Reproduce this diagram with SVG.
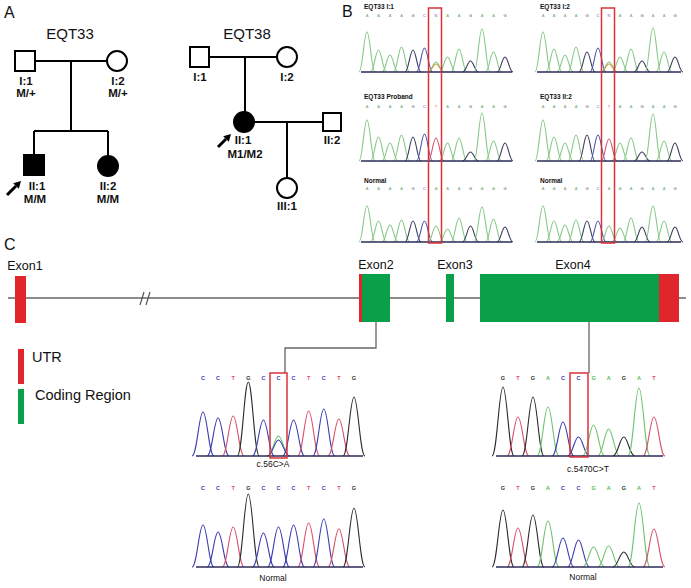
<svg xmlns="http://www.w3.org/2000/svg" xmlns:xlink="http://www.w3.org/1999/xlink" width="691" height="588" viewBox="0 0 691 588">
<style>
text{font-family:"Liberation Sans",Arial,sans-serif;fill:#111}
.pl{font-size:16px}
.fam{font-size:15px;text-anchor:middle}
.pid{font-size:11.5px;font-weight:bold;text-anchor:middle}
.ln{stroke:#000;stroke-width:2;fill:none}
.un{fill:#fff;stroke:#000;stroke-width:2}
.af{fill:#000;stroke:#000;stroke-width:2}
.tl{font-size:6.5px;font-weight:bold}
.bl{font-size:4px;text-anchor:middle;fill:#6a6}
.cl{font-size:5.5px;font-weight:bold;text-anchor:middle;fill:#3c3cb0}
.g{stroke:#86c986}.k{stroke:#3b3b5e}.b{stroke:#4a56a8}.r{stroke:#d8546a}.o{stroke:#c9a24a}
.cb{stroke:#3c3cb0}.ck{stroke:#2b2b2b}.cr{stroke:#d9506a}.cg{stroke:#6cc46c}
use{fill:none;stroke-width:1.1}
.base{stroke:#2d2d5a;stroke-width:1.5}
.box{fill:none;stroke:#d8333a;stroke-width:1.5}
.ex{font-size:12.5px;text-anchor:middle}
.lg{font-size:14.5px}
.conn{stroke:#666;stroke-width:1.3;fill:none}
.cap{font-size:8.5px;text-anchor:middle}
</style>
<defs>
<path id="pb" d="M-8,0 C-4.5,0 -3,-1 0,-1 C3,-1 4.5,0 8,0" vector-effect="non-scaling-stroke"/>
<path id="pc" d="M-11,0 C-6,0 -4,-1 0,-1 C4,-1 6,0 11,0" vector-effect="non-scaling-stroke"/>
</defs>

<!-- Panel labels -->
<text class="pl" x="4" y="18">A</text>
<text class="pl" x="342" y="17">B</text>
<text class="pl" x="4" y="250">C</text>

<!-- Pedigree EQT33 -->
<g id="eqt33">
<text class="fam" x="70" y="39">EQT33</text>
<path class="ln" d="M35,61 H107 M71,61 V131 M34,131 H108 M34,131 V155 M108,131 V156"/>
<rect class="un" x="15" y="51" width="20" height="20"/>
<circle class="un" cx="117" cy="61" r="10"/>
<rect class="af" x="24" y="155" width="20" height="20"/>
<circle class="af" cx="108" cy="166" r="10"/>
<text class="pid" x="26" y="85">I:1</text>
<text class="pid" x="26" y="97">M/+</text>
<text class="pid" x="118" y="85">I:2</text>
<text class="pid" x="118" y="97">M/+</text>
<text class="pid" x="37" y="190">II:1</text>
<text class="pid" x="35" y="203">M/M</text>
<text class="pid" x="108" y="190">II:2</text>
<text class="pid" x="108" y="203">M/M</text>
<path d="M7,195 L16,186" stroke="#000" stroke-width="3"/>
<polygon points="21,181 18.8,188.8 13.2,183.2" fill="#000"/>
</g>

<!-- Pedigree EQT38 -->
<g id="eqt38">
<text class="fam" x="247" y="39">EQT38</text>
<path class="ln" d="M209,57 H277 M245,57 V112 M253,122 H323 M287,122 V178"/>
<rect class="un" x="190" y="47" width="19" height="20"/>
<circle class="un" cx="287" cy="57" r="10"/>
<circle class="af" cx="244" cy="122" r="10"/>
<rect class="un" x="323" y="113" width="18" height="18"/>
<circle class="un" cx="287" cy="188" r="10"/>
<text class="pid" x="200" y="81">I:1</text>
<text class="pid" x="287" y="81">I:2</text>
<text class="pid" x="243" y="144">II:1</text>
<text class="pid" x="245" y="158">M1/M2</text>
<text class="pid" x="332" y="144">II:2</text>
<text class="pid" x="287" y="210">III:1</text>
<path d="M218,147 L226,139" stroke="#000" stroke-width="3"/>
<polygon points="231,134 228.8,141.8 223.2,136.2" fill="#000"/>
</g>

<!-- Panel B chromatograms -->
<g id="chromB">
<text class="tl" x="364" y="9">EQT33 I:1</text>
<text class="tl" x="540" y="9">EQT33 I:2</text>
<text class="tl" x="364" y="99">EQT33 Proband</text>
<text class="tl" x="540" y="99">EQT33 II:2</text>
<text class="tl" x="364" y="183">Normal</text>
<text class="tl" x="540" y="183">Normal</text>

<text class="bl" y="17"><tspan x="367">A</tspan><tspan x="378.5">A</tspan><tspan x="390">A</tspan><tspan x="401.5">A</tspan><tspan x="413" fill="#444">G</tspan><tspan x="424.5" fill="#55a">C</tspan><tspan x="436" fill="#a4a">N</tspan><tspan x="447.5">A</tspan><tspan x="459">A</tspan><tspan x="470.5" fill="#444">G</tspan><tspan x="482">A</tspan><tspan x="493.5">A</tspan><tspan x="505" fill="#444">G</tspan></text>
<text class="bl" y="108"><tspan x="367">A</tspan><tspan x="378.5">A</tspan><tspan x="390">A</tspan><tspan x="401.5">A</tspan><tspan x="413" fill="#444">G</tspan><tspan x="424.5" fill="#55a">C</tspan><tspan x="436" fill="#d55">T</tspan><tspan x="447.5">A</tspan><tspan x="459">A</tspan><tspan x="470.5" fill="#444">G</tspan><tspan x="482">A</tspan><tspan x="493.5">A</tspan><tspan x="505" fill="#444">G</tspan></text>
<text class="bl" y="190"><tspan x="367">A</tspan><tspan x="378.5">A</tspan><tspan x="390">A</tspan><tspan x="401.5">A</tspan><tspan x="413" fill="#444">G</tspan><tspan x="424.5" fill="#55a">C</tspan><tspan x="436">A</tspan><tspan x="447.5">A</tspan><tspan x="459">A</tspan><tspan x="470.5" fill="#444">G</tspan><tspan x="482">A</tspan><tspan x="493.5">A</tspan><tspan x="505" fill="#444">G</tspan></text>
<text class="bl" y="17"><tspan x="543">A</tspan><tspan x="554">A</tspan><tspan x="565">A</tspan><tspan x="576">A</tspan><tspan x="587" fill="#444">G</tspan><tspan x="598" fill="#55a">C</tspan><tspan x="609" fill="#a4a">N</tspan><tspan x="620">A</tspan><tspan x="631">A</tspan><tspan x="642" fill="#444">G</tspan><tspan x="653">A</tspan><tspan x="664">A</tspan><tspan x="675" fill="#444">G</tspan></text>
<text class="bl" y="108"><tspan x="543">A</tspan><tspan x="554">A</tspan><tspan x="565">A</tspan><tspan x="576">A</tspan><tspan x="587" fill="#444">G</tspan><tspan x="598" fill="#55a">C</tspan><tspan x="609" fill="#d55">T</tspan><tspan x="620">A</tspan><tspan x="631">A</tspan><tspan x="642" fill="#444">G</tspan><tspan x="653">A</tspan><tspan x="664">A</tspan><tspan x="675" fill="#444">G</tspan></text>
<text class="bl" y="190"><tspan x="543">A</tspan><tspan x="554">A</tspan><tspan x="565">A</tspan><tspan x="576">A</tspan><tspan x="587" fill="#444">G</tspan><tspan x="598" fill="#55a">C</tspan><tspan x="609">A</tspan><tspan x="620">A</tspan><tspan x="631">A</tspan><tspan x="642" fill="#444">G</tspan><tspan x="653">A</tspan><tspan x="664">A</tspan><tspan x="675" fill="#444">G</tspan></text>

<!-- left row1 -->
<use href="#pb" class="g" transform="translate(367,72) scale(1,40)"/>
<use href="#pb" class="g" transform="translate(378.5,72) scale(1,22)"/>
<use href="#pb" class="g" transform="translate(390,72) scale(1,17)"/>
<use href="#pb" class="g" transform="translate(401.5,72) scale(1,25)"/>
<use href="#pb" class="k" transform="translate(413,72) scale(1,22)"/>
<use href="#pb" class="b" transform="translate(424.5,72) scale(1,24)"/>
<use href="#pb" class="g" transform="translate(436,72) scale(1,10)"/>
<use href="#pb" class="o" transform="translate(436,72) scale(1,8)"/>
<use href="#pb" class="g" transform="translate(447.5,72) scale(1,15)"/>
<use href="#pb" class="g" transform="translate(459,72) scale(1,23)"/>
<use href="#pb" class="k" transform="translate(470.5,72) scale(1,11)"/>
<use href="#pb" class="g" transform="translate(482,72) scale(1,43)"/>
<use href="#pb" class="g" transform="translate(493.5,72) scale(1,20)"/>
<use href="#pb" class="k" transform="translate(505,72) scale(1,15)"/>
<!-- left row2 -->
<use href="#pb" class="g" transform="translate(367,161) scale(1,41)"/>
<use href="#pb" class="g" transform="translate(378.5,161) scale(1,24)"/>
<use href="#pb" class="g" transform="translate(390,161) scale(1,18)"/>
<use href="#pb" class="g" transform="translate(401.5,161) scale(1,26)"/>
<use href="#pb" class="k" transform="translate(413,161) scale(1,24)"/>
<use href="#pb" class="b" transform="translate(424.5,161) scale(1,27)"/>
<use href="#pb" class="r" transform="translate(436,161) scale(1,23)"/>
<use href="#pb" class="g" transform="translate(447.5,161) scale(1,18)"/>
<use href="#pb" class="g" transform="translate(459,161) scale(1,23)"/>
<use href="#pb" class="k" transform="translate(470.5,161) scale(1,9)"/>
<use href="#pb" class="g" transform="translate(482,161) scale(1,48)"/>
<use href="#pb" class="g" transform="translate(493.5,161) scale(1,20)"/>
<use href="#pb" class="k" transform="translate(505,161) scale(1,18)"/>
<!-- left row3 -->
<use href="#pb" class="g" transform="translate(367,242) scale(1,36)"/>
<use href="#pb" class="g" transform="translate(378.5,242) scale(1,21)"/>
<use href="#pb" class="g" transform="translate(390,242) scale(1,17)"/>
<use href="#pb" class="g" transform="translate(401.5,242) scale(1,22)"/>
<use href="#pb" class="k" transform="translate(413,242) scale(1,21)"/>
<use href="#pb" class="b" transform="translate(424.5,242) scale(1,21)"/>
<use href="#pb" class="g" transform="translate(436,242) scale(1,16)"/>
<use href="#pb" class="g" transform="translate(447.5,242) scale(1,13)"/>
<use href="#pb" class="g" transform="translate(459,242) scale(1,24)"/>
<use href="#pb" class="k" transform="translate(470.5,242) scale(1,16)"/>
<use href="#pb" class="g" transform="translate(482,242) scale(1,35)"/>
<use href="#pb" class="g" transform="translate(493.5,242) scale(1,23)"/>
<use href="#pb" class="k" transform="translate(505,242) scale(1,15)"/>
<!-- right row1 -->
<use href="#pb" class="g" transform="translate(543,72) scale(1,40)"/>
<use href="#pb" class="g" transform="translate(554,72) scale(1,23)"/>
<use href="#pb" class="g" transform="translate(565,72) scale(1,17)"/>
<use href="#pb" class="g" transform="translate(576,72) scale(1,25)"/>
<use href="#pb" class="k" transform="translate(587,72) scale(1,20)"/>
<use href="#pb" class="b" transform="translate(598,72) scale(1,24)"/>
<use href="#pb" class="g" transform="translate(609,72) scale(1,10)"/>
<use href="#pb" class="o" transform="translate(609,72) scale(1,8)"/>
<use href="#pb" class="g" transform="translate(620,72) scale(1,15)"/>
<use href="#pb" class="g" transform="translate(631,72) scale(1,23)"/>
<use href="#pb" class="k" transform="translate(642,72) scale(1,11)"/>
<use href="#pb" class="g" transform="translate(653,72) scale(1,44)"/>
<use href="#pb" class="g" transform="translate(664,72) scale(1,20)"/>
<use href="#pb" class="k" transform="translate(675,72) scale(1,15)"/>
<!-- right row2 -->
<use href="#pb" class="g" transform="translate(543,161) scale(1,41)"/>
<use href="#pb" class="g" transform="translate(554,161) scale(1,24)"/>
<use href="#pb" class="g" transform="translate(565,161) scale(1,18)"/>
<use href="#pb" class="g" transform="translate(576,161) scale(1,26)"/>
<use href="#pb" class="k" transform="translate(587,161) scale(1,26)"/>
<use href="#pb" class="b" transform="translate(598,161) scale(1,26)"/>
<use href="#pb" class="r" transform="translate(609,161) scale(1,22)"/>
<use href="#pb" class="g" transform="translate(620,161) scale(1,18)"/>
<use href="#pb" class="g" transform="translate(631,161) scale(1,23)"/>
<use href="#pb" class="k" transform="translate(642,161) scale(1,9)"/>
<use href="#pb" class="g" transform="translate(653,161) scale(1,47)"/>
<use href="#pb" class="g" transform="translate(664,161) scale(1,20)"/>
<use href="#pb" class="k" transform="translate(675,161) scale(1,18)"/>
<!-- right row3 -->
<use href="#pb" class="g" transform="translate(543,242) scale(1,36)"/>
<use href="#pb" class="g" transform="translate(554,242) scale(1,21)"/>
<use href="#pb" class="g" transform="translate(565,242) scale(1,17)"/>
<use href="#pb" class="g" transform="translate(576,242) scale(1,22)"/>
<use href="#pb" class="k" transform="translate(587,242) scale(1,21)"/>
<use href="#pb" class="b" transform="translate(598,242) scale(1,21)"/>
<use href="#pb" class="g" transform="translate(609,242) scale(1,16)"/>
<use href="#pb" class="g" transform="translate(620,242) scale(1,14)"/>
<use href="#pb" class="g" transform="translate(631,242) scale(1,24)"/>
<use href="#pb" class="k" transform="translate(642,242) scale(1,15)"/>
<use href="#pb" class="g" transform="translate(653,242) scale(1,36)"/>
<use href="#pb" class="g" transform="translate(664,242) scale(1,21)"/>
<use href="#pb" class="k" transform="translate(675,242) scale(1,15)"/>

<path class="base" d="M361,72 H512 M361,161 H512 M361,242 H512 M537,72 H681 M537,161 H681 M537,242 H681"/>
<rect class="box" x="428.5" y="8" width="13" height="235"/>
<rect class="box" x="601.5" y="8" width="13" height="235"/>
</g>

<!-- Panel C gene structure -->
<g id="gene">
<line x1="8" y1="298" x2="686" y2="298" stroke="#666" stroke-width="1.3"/>
<path d="M140,305 L144,292 M146,305 L150,292" stroke="#555" stroke-width="1.2" fill="none"/>
<text class="ex" x="25" y="270">Exon1</text>
<text class="ex" x="376" y="269">Exon2</text>
<text class="ex" x="455" y="269">Exon3</text>
<text class="ex" x="573" y="269">Exon4</text>
<rect x="15" y="276" width="11" height="47" fill="#e0262b"/>
<rect x="359" y="274" width="3" height="48" fill="#e0262b"/>
<rect x="362" y="274" width="28" height="48" fill="#0aa04a"/>
<rect x="446" y="274" width="8" height="48" fill="#0aa04a"/>
<rect x="480" y="274" width="179" height="48" fill="#0aa04a"/>
<rect x="659" y="274" width="20" height="48" fill="#e0262b"/>
</g>

<g id="legend">
<rect x="18" y="349" width="6" height="35" fill="#e0262b"/>
<rect x="18" y="389" width="6" height="35" fill="#0aa04a"/>
<text class="lg" x="32" y="362">UTR</text>
<text class="lg" x="35" y="400">Coding Region</text>
</g>

<g id="connectors">
<path class="conn" d="M376,322 V348 H285 V373"/>
<path class="conn" d="M589,322 V373"/>
</g>

<!-- Panel C chromatograms -->
<g id="chromC">
<text class="cl" y="380"><tspan x="203">C</tspan><tspan x="218.1">C</tspan><tspan x="233.2" fill="#d9506a">T</tspan><tspan x="248.3" fill="#333">G</tspan><tspan x="263.4">C</tspan><tspan x="278.5">C</tspan><tspan x="293.6">C</tspan><tspan x="308.7" fill="#d9506a">T</tspan><tspan x="323.8">C</tspan><tspan x="338.9" fill="#d9506a">T</tspan><tspan x="354" fill="#333">G</tspan></text>
<text class="cl" y="490"><tspan x="203">C</tspan><tspan x="218.1">C</tspan><tspan x="233.2" fill="#d9506a">T</tspan><tspan x="248.3" fill="#333">G</tspan><tspan x="263.4">C</tspan><tspan x="278.5">C</tspan><tspan x="293.6">C</tspan><tspan x="308.7" fill="#d9506a">T</tspan><tspan x="323.8">C</tspan><tspan x="338.9" fill="#d9506a">T</tspan><tspan x="354" fill="#333">G</tspan></text>
<text class="cl" y="380"><tspan x="503" fill="#333">G</tspan><tspan x="518" fill="#d9506a">T</tspan><tspan x="533" fill="#333">G</tspan><tspan x="548" fill="#5b5">A</tspan><tspan x="563">C</tspan><tspan x="578.5">C</tspan><tspan x="593.6" fill="#5b5">G</tspan><tspan x="608.7" fill="#5b5">A</tspan><tspan x="623.8" fill="#333">G</tspan><tspan x="639" fill="#5b5">A</tspan><tspan x="654" fill="#d9506a">T</tspan></text>
<text class="cl" y="490"><tspan x="503" fill="#333">G</tspan><tspan x="518" fill="#d9506a">T</tspan><tspan x="533" fill="#333">G</tspan><tspan x="548" fill="#5b5">A</tspan><tspan x="563">C</tspan><tspan x="578.5">C</tspan><tspan x="593.6" fill="#5b5">G</tspan><tspan x="608.7" fill="#5b5">A</tspan><tspan x="623.8" fill="#333">G</tspan><tspan x="639" fill="#5b5">A</tspan><tspan x="654" fill="#d9506a">T</tspan></text>

<!-- left mutant -->
<use href="#pc" class="cb" transform="translate(203,456) scale(1,44)"/>
<use href="#pc" class="cb" transform="translate(218.1,456) scale(1,38)"/>
<use href="#pc" class="cr" transform="translate(233.2,456) scale(1,40)"/>
<use href="#pc" class="ck" transform="translate(248.3,456) scale(1,74)"/>
<use href="#pc" class="cb" transform="translate(263.4,456) scale(1,36)"/>
<use href="#pc" class="cg" transform="translate(278.5,456) scale(1,20)"/>
<use href="#pc" class="cb" transform="translate(278.5,456) scale(1,16)"/>
<use href="#pc" class="cb" transform="translate(293.6,456) scale(1,36)"/>
<use href="#pc" class="cr" transform="translate(308.7,456) scale(1,45)"/>
<use href="#pc" class="cb" transform="translate(323.8,456) scale(1,47)"/>
<use href="#pc" class="cr" transform="translate(338.9,456) scale(1,37)"/>
<use href="#pc" class="ck" transform="translate(354,456) scale(1,59)"/>
<!-- left normal -->
<use href="#pc" class="cb" transform="translate(203,567) scale(1,42)"/>
<use href="#pc" class="cb" transform="translate(218.1,567) scale(1,35)"/>
<use href="#pc" class="cr" transform="translate(233.2,567) scale(1,40)"/>
<use href="#pc" class="ck" transform="translate(248.3,567) scale(1,73)"/>
<use href="#pc" class="cb" transform="translate(263.4,567) scale(1,34)"/>
<use href="#pc" class="cb" transform="translate(278.5,567) scale(1,40)"/>
<use href="#pc" class="cb" transform="translate(293.6,567) scale(1,42)"/>
<use href="#pc" class="cr" transform="translate(308.7,567) scale(1,44)"/>
<use href="#pc" class="cb" transform="translate(323.8,567) scale(1,48)"/>
<use href="#pc" class="cr" transform="translate(338.9,567) scale(1,38)"/>
<use href="#pc" class="ck" transform="translate(354,567) scale(1,59)"/>
<!-- right mutant -->
<use href="#pc" class="ck" transform="translate(503,456) scale(1,69)"/>
<use href="#pc" class="cr" transform="translate(518,456) scale(1,39)"/>
<use href="#pc" class="ck" transform="translate(533,456) scale(1,59)"/>
<use href="#pc" class="cg" transform="translate(548,456) scale(1,49)"/>
<use href="#pc" class="cb" transform="translate(563,456) scale(1,34)"/>
<use href="#pc" class="cb" transform="translate(578.5,456) scale(1,19)"/>
<use href="#pc" class="cg" transform="translate(593.6,456) scale(1,31)"/>
<use href="#pc" class="cg" transform="translate(608.7,456) scale(1,27)"/>
<use href="#pc" class="ck" transform="translate(623.8,456) scale(1,19)"/>
<use href="#pc" class="cg" transform="translate(639,456) scale(1,68)"/>
<use href="#pc" class="cr" transform="translate(654,456) scale(1,39)"/>
<!-- right normal -->
<use href="#pc" class="ck" transform="translate(503,567) scale(1,57)"/>
<use href="#pc" class="cr" transform="translate(518,567) scale(1,39)"/>
<use href="#pc" class="ck" transform="translate(533,567) scale(1,52)"/>
<use href="#pc" class="cg" transform="translate(548,567) scale(1,46)"/>
<use href="#pc" class="cb" transform="translate(563,567) scale(1,29)"/>
<use href="#pc" class="cb" transform="translate(578.5,567) scale(1,27)"/>
<use href="#pc" class="cg" transform="translate(593.6,567) scale(1,20)"/>
<use href="#pc" class="cg" transform="translate(608.7,567) scale(1,21)"/>
<use href="#pc" class="ck" transform="translate(623.8,567) scale(1,15)"/>
<use href="#pc" class="cg" transform="translate(639,567) scale(1,64)"/>
<use href="#pc" class="cr" transform="translate(654,567) scale(1,38)"/>

<path class="base" d="M196,456 H363 M196,567 H363 M496,456 H663 M496,567 H663"/>
<rect class="box" x="270" y="373" width="17" height="85"/>
<rect class="box" x="570" y="373" width="18" height="84"/>
<text class="cap" x="273" y="467">c.56C&gt;A</text>
<text class="cap" x="273" y="581">Normal</text>
<text class="cap" x="588" y="472">c.5470C&gt;T</text>
<text class="cap" x="583" y="580">Normal</text>
</g>
</svg>
